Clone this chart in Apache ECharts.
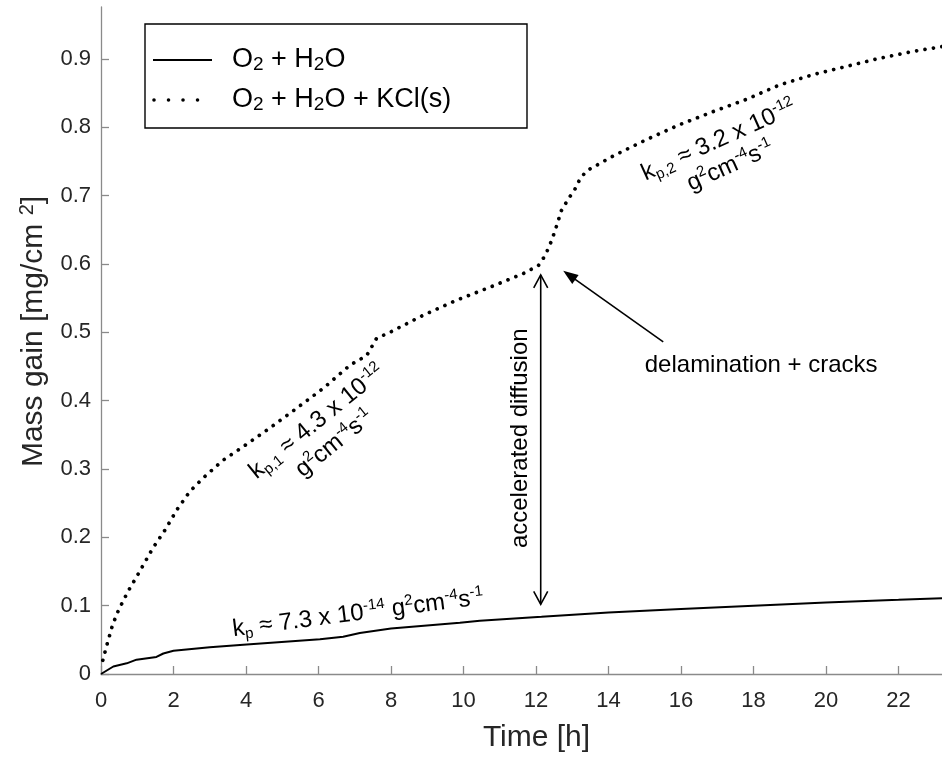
<!DOCTYPE html>
<html><head><meta charset="utf-8">
<script src="https://cdn.jsdelivr.net/npm/echarts@6/dist/echarts.min.js"></script>
<style>html,body{margin:0;padding:0;background:#fff}#c{width:942px;height:758px}</style>
</head><body><div id="c"></div>
<script>
// ---- data ----
const xTicks = [0, 2, 4, 6, 8, 10, 12, 14, 16, 18, 20, 22];
const yTicks = [0, 0.1, 0.2, 0.3, 0.4, 0.5, 0.6, 0.7, 0.8, 0.9];
const seriesNames = ['O2 + H2O', 'O2 + H2O + KCl(s)'];

const solidTime = [0, 0.34, 0.71, 0.98, 1.53, 1.72, 2.0, 3.0, 4.02, 6.04, 6.68, 7.14, 8.0, 9.9, 10.45, 12.15, 14.0, 16.0, 18.0, 20.0, 22.0, 23.2];
const solidMass = [0, 0.011, 0.0156, 0.021, 0.025, 0.030, 0.034, 0.039, 0.043, 0.051, 0.0545, 0.060, 0.0666, 0.075, 0.078, 0.0836, 0.090, 0.095, 0.0997, 0.1045, 0.1085, 0.111];

const kclTime = [0.05, 0.16, 0.32, 0.48, 0.64, 0.80, 0.97, 1.14, 1.44, 1.77, 2.09, 2.45, 2.82, 3.37, 3.93, 4.66, 5.40, 6.13, 6.87, 7.33, 7.6, 7.97, 8.89, 9.81, 10.73, 11.65, 12.07, 12.25, 12.43, 12.57, 12.7, 12.89, 13.07, 13.21, 13.39, 14.13, 15.05, 15.97, 16.89, 17.81, 18.72, 19.64, 20.56, 21.48, 22.4, 23.2];
const kclMass = [0.02, 0.042, 0.072, 0.093, 0.110, 0.126, 0.141, 0.157, 0.185, 0.211, 0.240, 0.267, 0.287, 0.313, 0.333, 0.360, 0.389, 0.418, 0.452, 0.466, 0.491, 0.500, 0.525, 0.547, 0.566, 0.586, 0.598, 0.612, 0.634, 0.656, 0.678, 0.695, 0.709, 0.724, 0.736, 0.758, 0.782, 0.804, 0.823, 0.841, 0.862, 0.877, 0.889, 0.901, 0.911, 0.918];

// annotation anchors in data coordinates [time, mass]
const arrowVertical = [[12.13, 0.102], [12.13, 0.584]];
const arrowDiagonal = [[15.51, 0.486], [12.75, 0.590]]; // tail, tip
const labelDelam = [15.0, 0.451];
const labelDiffusion = [11.58, 0.345];
const labelKp = [7.09, 0.0885];
const labelKp1 = [6.2, 0.353];
const labelKp2 = [17.2, 0.762];

// ---- chart ----
const FONT = '"Liberation Sans", Arial, Helvetica, sans-serif';
const AX = '#8a8a8a', LBL = '#262626';

const chart = echarts.init(document.getElementById('c'), null, {renderer: 'canvas'});
const option = {
  animation: false,
  backgroundColor: '#fff',
  grid: {left: 101, top: 7, right: 0, bottom: 81},
  xAxis: {
    type: 'value', min: 0, max: 23.2,
    name: 'Time [h]', nameLocation: 'middle', nameGap: 49,
    nameTextStyle: {fontSize: 30, color: LBL, fontFamily: FONT, padding: [0, 0, 0, 30]},
    axisLine: {show: true, lineStyle: {color: AX, width: 1.3}},
    axisTick: {show: true, inside: true, length: 8, customValues: xTicks, lineStyle: {color: AX, width: 1.3}},
    axisLabel: {customValues: xTicks, fontSize: 22, color: LBL, margin: 16, fontFamily: FONT,
      formatter: v => String(v)},
    splitLine: {show: false}
  },
  yAxis: {
    type: 'value', min: 0, max: 0.976,
    name: '{a|Mass gain [mg/cm }{sup|2}{a|]}', nameLocation: 'middle', nameGap: 50, nameRotate: 90,
    nameTextStyle: {fontSize: 30, color: LBL, fontFamily: FONT, padding: [0, 0, 0, 18],
      rich: {a: {fontSize: 30, color: LBL, fontFamily: FONT, lineHeight: 34},
             sup: {fontSize: 20, color: LBL, fontFamily: FONT, verticalAlign: 'top'}}},
    axisLine: {show: true, lineStyle: {color: AX, width: 1.3}},
    axisTick: {show: true, inside: true, length: 8, customValues: yTicks, lineStyle: {color: AX, width: 1.3}},
    axisLabel: {customValues: yTicks, fontSize: 22, color: LBL, margin: 10, fontFamily: FONT,
      formatter: v => (v === 0 ? '0' : v.toFixed(1))},
    splitLine: {show: false}
  },
  series: [
    {name: seriesNames[0], type: 'line', symbol: 'none', smooth: false,
     data: solidTime.map((t, i) => [t, solidMass[i]]),
     lineStyle: {color: '#000', width: 2}},
    {name: seriesNames[1], type: 'line', symbol: 'none', smooth: false,
     data: kclTime.map((t, i) => [t, kclMass[i]]),
     lineStyle: {color: '#000', width: 3.7, type: [0.01, 8.5], cap: 'round'}}
  ]
};
chart.setOption(option);

const px = p => chart.convertToPixel({gridIndex: 0}, p);
const rich = {
  m: {fontSize: 24, fontFamily: FONT, color: '#000', lineHeight: 28},
  sup: {fontSize: 15, fontFamily: FONT, color: '#000', verticalAlign: 'top'},
  sub: {fontSize: 15, fontFamily: FONT, color: '#000', verticalAlign: 'bottom'}
};
const legRich = {
  m: {fontSize: 27, fontFamily: FONT, color: '#000', lineHeight: 29},
  sub: {fontSize: 19, fontFamily: FONT, color: '#000', verticalAlign: 'bottom'}
};
const g = [];
function textAt(p, text, rot, richDef) {
  const q = px(p);
  g.push({type: 'text', x: q[0], y: q[1], rotation: rot, z: 100,
    style: {text: text, rich: richDef, fill: '#000', fontSize: 24, fontFamily: FONT, align: 'center', verticalAlign: 'middle'}});
}
const deg = Math.PI / 180;
textAt(labelKp, '{m|k}{sub|p}{m| ≈ 7.3 x 10}{sup|-14}{m| g}{sup|2}{m|cm}{sup|-4}{m|s}{sup|-1}', 7.3 * deg, rich);
textAt(labelKp1, '{m|k}{sub|p,1}{m| ≈ 4.3 x 10}{sup|-12}\n{m|g}{sup|2}{m|cm}{sup|-4}{m|s}{sup|-1}', 39 * deg, rich);
textAt(labelKp2, '{m|k}{sub|p,2}{m| ≈ 3.2 x 10}{sup|-12}\n{m|g}{sup|2}{m|cm}{sup|-4}{m|s}{sup|-1}', 24.3 * deg, rich);
textAt(labelDiffusion, '{m|accelerated diffusion}', 90 * deg, rich);
(function () {
  const q = px(labelDelam);
  g.push({type: 'text', x: q[0], y: q[1], z: 100,
    style: {text: 'delamination + cracks', fill: '#000', fontSize: 24, fontFamily: FONT, align: 'left', verticalAlign: 'middle'}});
})();

// vertical double arrow
(function () {
  const a = px(arrowVertical[0]), b = px(arrowVertical[1]);
  const st = {stroke: '#000', lineWidth: 1.6, fill: null};
  g.push({type: 'line', z: 100, shape: {x1: a[0], y1: a[1], x2: b[0], y2: b[1]}, style: st});
  g.push({type: 'polyline', z: 100, shape: {points: [[b[0] - 7, b[1] + 13], [b[0], b[1]], [b[0] + 7, b[1] + 13]]}, style: st});
  g.push({type: 'polyline', z: 100, shape: {points: [[a[0] - 7, a[1] - 13], [a[0], a[1]], [a[0] + 7, a[1] - 13]]}, style: st});
})();
// diagonal arrow
(function () {
  const t = px(arrowDiagonal[0]), p = px(arrowDiagonal[1]);
  const dx = p[0] - t[0], dy = p[1] - t[1], L = Math.hypot(dx, dy);
  const ux = dx / L, uy = dy / L, nx = -uy, ny = ux;
  const hl = 15, hw = 5.5;
  const bx = p[0] - ux * hl, by = p[1] - uy * hl;
  g.push({type: 'line', z: 100, shape: {x1: t[0], y1: t[1], x2: bx + ux * 2, y2: by + uy * 2}, style: {stroke: '#000', lineWidth: 1.6}});
  g.push({type: 'polygon', z: 100, shape: {points: [[p[0], p[1]], [bx + nx * hw, by + ny * hw], [bx - nx * hw, by - ny * hw]]}, style: {fill: '#000'}});
})();

// legend box
g.push({type: 'rect', z: 110, shape: {x: 145, y: 24, width: 382, height: 104}, style: {fill: '#fff', stroke: '#000', lineWidth: 1.4}});
g.push({type: 'line', z: 111, shape: {x1: 153, y1: 60, x2: 212, y2: 60}, style: {stroke: '#000', lineWidth: 2}});
g.push({type: 'line', z: 111, shape: {x1: 154, y1: 100, x2: 212, y2: 100}, style: {stroke: '#000', lineWidth: 3.6, lineDash: [0.01, 14.5], lineCap: 'round'}});
g.push({type: 'text', z: 111, x: 232, y: 60, style: {text: '{m|O}{sub|2}{m| + H}{sub|2}{m|O}', rich: legRich, fill: '#000', align: 'left', verticalAlign: 'middle'}});
g.push({type: 'text', z: 111, x: 232, y: 100, style: {text: '{m|O}{sub|2}{m| + H}{sub|2}{m|O + KCl(s)}', rich: legRich, fill: '#000', align: 'left', verticalAlign: 'middle'}});

chart.setOption({graphic: g});
</script>
</body></html>
